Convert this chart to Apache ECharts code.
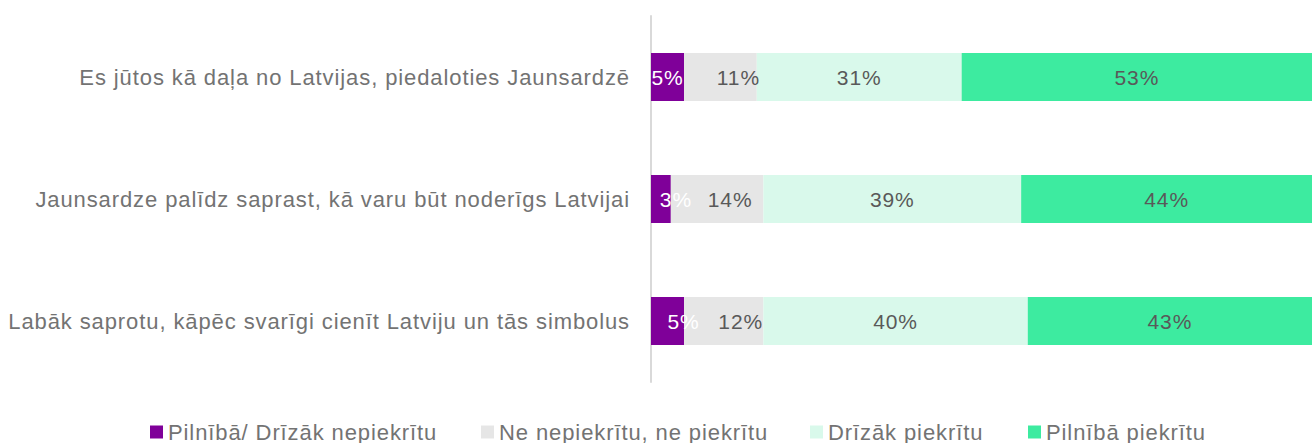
<!DOCTYPE html>
<html>
<head>
<meta charset="utf-8">
<script src="https://cdn.jsdelivr.net/npm/echarts@6/dist/echarts.min.js"></script>
<style>
	html, body {margin:0; padding:0; background:#fff;}
	#chart {width:1312px; height:443px;}
	#chart text {letter-spacing: 0.9px;}
</style>
</head>
<body>
<div id="chart"></div>
<script>
	var categories = [
		'Es jūtos kā daļa no Latvijas, piedaloties Jaunsardzē',
		'Jaunsardze palīdz saprast, kā varu būt noderīgs Latvijai',
		'Labāk saprotu, kāpēc svarīgi cienīt Latviju un tās simbolus'
	];
	var seriesNames = ['Pilnībā/ Drīzāk nepiekrītu', 'Ne nepiekrītu, ne piekrītu', 'Drīzāk piekrītu', 'Pilnībā piekrītu'];
	var disagree = [5, 3, 5];
	var neutral = [11, 14, 12];
	var ratherAgree = [31, 39, 40];
	var fullyAgree = [53, 44, 43];

	var colors = ['#7F0099', '#E6E6E6', '#D9F9EB', '#3DEBA0'];
	var labelColors = ['#ffffff', '#595959', '#595959', '#595959'];
	var textGray = '#737373';
	var font = 'Liberation Sans, Arial, sans-serif';
	// labels of the two narrow segments sit a bit to the right in the original
	var labelShift = [[0, 15, 16], [18, 13, 17], [0, 0, 0], [0, 0, 0]];
	var legendLeft = [150, 481, 810, 1028];

	var chart = echarts.init(document.getElementById('chart'), null, {renderer: 'svg'});
	var allData = [disagree, neutral, ratherAgree, fullyAgree];

	var series = allData.map(function(arr, i) {
		return {
			name: seriesNames[i],
			type: 'bar',
			stack: 'total',
			barWidth: 48,
			itemStyle: {color: colors[i]},
			label: {
				show: true,
				position: 'inside',
				color: labelColors[i],
				fontSize: 21,
				fontFamily: font,
				formatter: '{c}%'
			},
			data: arr.map(function(v, j) {
				return {value: v, label: {offset: [labelShift[i][j], 0]}};
			})
		};
	});

	var legends = seriesNames.map(function(name, i) {
		return {
			top: 421,
			left: legendLeft[i],
			padding: 0,
			itemWidth: 13,
			itemHeight: 13,
			icon: 'rect',
			textStyle: {fontSize: 22, color: textGray, fontFamily: font},
			data: [name]
		};
	});

	chart.setOption({
		animation: false,
		textStyle: {fontFamily: font},
		grid: {left: 651, right: 0, top: 16, bottom: 61, containLabel: false},
		legend: legends,
		xAxis: {
			type: 'value',
			min: 0,
			max: 100,
			show: false
		},
		yAxis: {
			type: 'category',
			inverse: true,
			data: categories,
			axisTick: {show: false},
			axisLine: {lineStyle: {color: '#D9D9D9', width: 2}},
			axisLabel: {fontSize: 22, color: textGray, margin: 21, fontFamily: font}
		},
		series: series
	});
</script>
</body>
</html>
